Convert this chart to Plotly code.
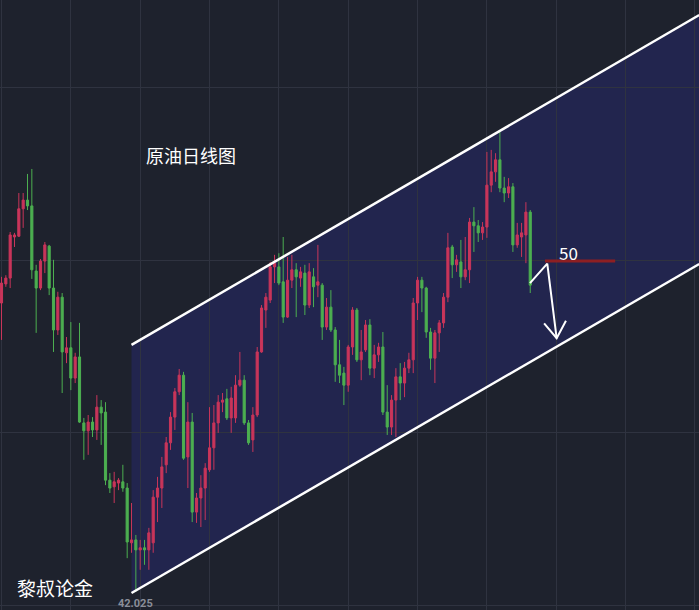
import plotly.graph_objects as go

# ---- data (index = trading day, price in USD) ----
opens = [48.99,49.45,49.59,50.58,50.60,51.26,51.47,51.33,49.76,49.35,
         50.00,50.36,49.35,48.34,49.13,47.79,47.91,47.18,47.69,46.10,
         45.91,46.12,45.93,46.48,46.36,44.72,44.56,44.65,44.68,44.53,
         43.21,43.28,43.04,43.09,43.04,43.21,44.31,44.53,45.09,45.62,
         46.24,46.85,47.25,45.28,46.12,43.95,44.29,44.53,44.97,45.50,
         46.10,46.60,46.68,46.22,46.22,47.01,47.13,46.10,45.69,46.29,
         47.81,48.82,49.06,49.86,49.86,49.50,48.65,49.54,49.79,49.59,
         49.71,48.94,49.62,49.42,49.42,48.41,48.89,48.34,47.50,47.30,
         47.01,47.93,48.82,47.62,47.86,48.46,47.42,47.74,47.93,46.36,
         46.00,46.65,47.21,47.06,47.42,47.62,48.99,49.54,49.35,48.29,
         47.66,48.27,48.51,49.13,50.34,49.91,49.98,49.62,49.79,50.94,
         50.85,50.68,50.82,51.83,52.15,52.44,51.76,51.64,51.79,50.39,
         50.58,50.63,51.18]
highs = [49.62,49.66,50.70,50.68,51.64,51.64,52.10,52.22,49.91,50.05,
         50.46,50.39,50.03,49.26,49.23,48.17,48.53,47.79,48.51,46.22,
         46.29,46.24,46.77,46.65,46.60,44.89,44.92,44.77,45.09,44.65,
         44.17,43.40,43.28,43.28,43.57,44.48,44.80,45.28,45.76,46.36,
         46.94,47.40,47.33,46.60,46.34,44.41,44.84,45.13,46.48,46.53,
         46.77,46.82,46.92,46.97,47.25,47.81,47.25,46.17,46.48,47.93,
         48.94,49.23,49.98,50.15,50.19,50.58,50.10,50.15,49.95,49.86,
         49.91,49.95,49.83,50.39,49.47,49.11,49.30,48.41,48.10,47.45,
         47.98,48.89,48.87,48.34,48.58,48.60,47.98,48.03,48.29,47.01,
         46.77,47.42,47.54,47.57,47.79,49.11,49.62,49.62,49.38,48.39,
         48.34,48.58,49.23,50.68,50.39,50.15,50.51,50.58,51.04,51.30,
         50.99,50.94,52.63,52.68,52.60,53.11,52.03,52.00,51.88,50.92,
         50.92,51.42,51.23]
lows = [48.10,49.38,49.35,50.34,50.58,50.80,51.23,49.57,48.27,49.30,
        49.71,49.18,47.81,48.22,46.82,47.54,46.89,47.06,46.10,45.21,
        45.33,45.76,45.69,45.57,44.60,44.41,44.17,44.48,44.44,42.84,
        42.97,42.03,42.56,42.68,42.56,42.97,43.71,44.05,44.89,45.45,
        45.93,46.77,45.21,44.53,43.71,43.69,43.59,43.76,44.92,44.97,
        45.86,46.36,46.17,45.86,46.10,46.97,46.05,45.57,45.40,46.24,
        47.79,48.39,48.99,49.47,49.42,48.51,48.63,49.35,48.65,49.38,
        48.70,48.87,48.89,49.13,48.10,48.34,48.29,47.09,47.06,46.53,
        46.85,47.74,47.57,47.13,47.81,47.25,47.18,47.57,46.29,45.81,
        45.81,45.76,46.65,46.72,47.30,47.30,48.58,48.77,48.15,47.38,
        47.06,47.81,48.39,49.01,49.59,49.74,49.35,49.54,49.47,50.22,
        50.46,50.51,50.56,51.66,51.91,51.66,51.42,51.52,50.22,50.32,
        50.10,49.95,49.23]
closes = [49.47,49.59,50.63,50.63,51.26,51.47,51.33,49.79,49.35,50.00,
          50.39,49.35,48.34,49.13,47.81,47.91,47.18,47.69,46.12,45.91,
          46.12,45.93,46.48,46.34,44.72,44.53,44.68,44.72,44.53,43.23,
          43.28,43.04,43.09,43.04,43.45,44.31,44.53,45.04,45.62,46.24,
          46.85,47.25,45.25,46.12,43.95,44.29,44.53,45.01,45.50,46.10,
          46.60,46.65,46.22,46.70,47.01,47.13,46.10,45.62,46.29,47.81,
          48.87,49.13,49.86,49.95,49.47,48.65,49.54,49.79,49.62,49.74,
          48.94,49.74,49.38,49.50,48.41,48.89,48.34,47.50,47.25,47.01,
          47.93,48.82,47.62,47.81,48.46,47.42,47.74,47.93,46.36,46.00,
          46.65,47.21,47.06,47.42,47.62,48.99,49.54,49.35,48.29,47.66,
          48.27,48.51,49.13,50.32,49.91,50.03,49.62,49.79,50.94,50.85,
          50.68,50.82,51.83,52.15,52.44,51.76,51.64,51.79,50.39,50.63,
          50.68,51.18,49.42]
days = list(range(len(opens)))

# channel (upper / lower trend lines): [start_day, end_day], prices
channel_days = [30, 161]
channel_upper = [47.98, 55.93]
channel_lower = [42.00, 49.93]

# target level and projected path
level_price = 50.0
level_days = [125.4, 141.6]
path_days = [121.94, 125.93, 128.1]
path_prices = [49.47, 49.94, 48.14]
head_days = [125.2, 128.1, 130.24]
head_prices = [48.50, 48.14, 48.56]

grid_days = list(range(0, 161, 16))
grid_prices = [54.195, 50.026, 45.857, 41.688]

title_text = "原油日线图"
brand_text = "黎叔论金"
low_label = "42.025"
level_label = "50"

BG = "#1e222d"
RED = "#c9355a"
GREEN = "#4caf50"
CHANNEL = "rgba(40,42,120,0.45)"

fig = go.Figure()

fig.add_trace(go.Candlestick(
    x=days, open=opens, high=highs, low=lows, close=closes,
    increasing=dict(line=dict(color=RED, width=1), fillcolor=RED),
    decreasing=dict(line=dict(color=GREEN, width=1), fillcolor=GREEN),
    showlegend=False))

# channel fill as a shape below gridlines
cx0, cx1 = channel_days
path = (f"M {cx0},{channel_upper[0]} L {cx1},{channel_upper[1]} "
        f"L {cx1},{channel_lower[1]} L {cx0},{channel_lower[0]} Z")
fig.add_shape(type="path", path=path, xref="x", yref="y",
              fillcolor=CHANNEL, line=dict(width=0), layer="below")

# trend lines
for ys in (channel_upper, channel_lower):
    fig.add_trace(go.Scatter(x=channel_days, y=ys, mode="lines",
                             line=dict(color="white", width=2.5),
                             hoverinfo="skip", showlegend=False))

# 50 level line
fig.add_trace(go.Scatter(x=level_days, y=[level_price, level_price], mode="lines",
                         line=dict(color="#8e1f22", width=3),
                         hoverinfo="skip", showlegend=False))
# projected path + arrow head
fig.add_trace(go.Scatter(x=path_days, y=path_prices, mode="lines",
                         line=dict(color="white", width=2),
                         hoverinfo="skip", showlegend=False))
fig.add_trace(go.Scatter(x=head_days, y=head_prices, mode="lines",
                         line=dict(color="white", width=2),
                         hoverinfo="skip", showlegend=False))

W, H = 699, 610
def px(x, y):
    return x / W, 1 - y / H

anns = []
for text, (x, y), size, color in [
    (title_text, (191, 155), 18, "#ffffff"),
    (brand_text, (55, 587), 19, "#ffffff"),
    (level_label, (568, 253), 17, "#ffffff"),
]:
    ax, ay = px(x, y)
    anns.append(dict(text=text, x=ax, y=ay, xref="paper", yref="paper",
                     xanchor="center", yanchor="middle", showarrow=False,
                     font=dict(family="Noto Sans CJK SC", size=size, color=color)))
ax, ay = px(135, 603)
anns.append(dict(text="<b>" + low_label + "</b>", x=ax, y=ay, xref="paper", yref="paper",
                 xanchor="center", yanchor="middle", showarrow=False,
                 font=dict(family="Roboto", size=11, color="#8a8e99")))

fig.update_layout(
    width=W, height=H, margin=dict(l=0, r=0, t=0, b=0),
    paper_bgcolor=BG, plot_bgcolor=BG,
    annotations=anns,
    xaxis=dict(range=[-0.346, 160.94], showticklabels=False, tickvals=grid_days,
               showgrid=True, gridcolor="#2f3340", gridwidth=1, zeroline=False,
               rangeslider=dict(visible=False), fixedrange=True),
    yaxis=dict(range=[41.591, 56.292], showticklabels=False, tickvals=grid_prices,
               showgrid=True, gridcolor="#2f3340", gridwidth=1, zeroline=False,
               fixedrange=True),
    showlegend=False,
)

fig.write_html("out.html", config={"displayModeBar": False},
               post_script="document.body.style.margin='0';document.body.style.overflow='hidden';")
